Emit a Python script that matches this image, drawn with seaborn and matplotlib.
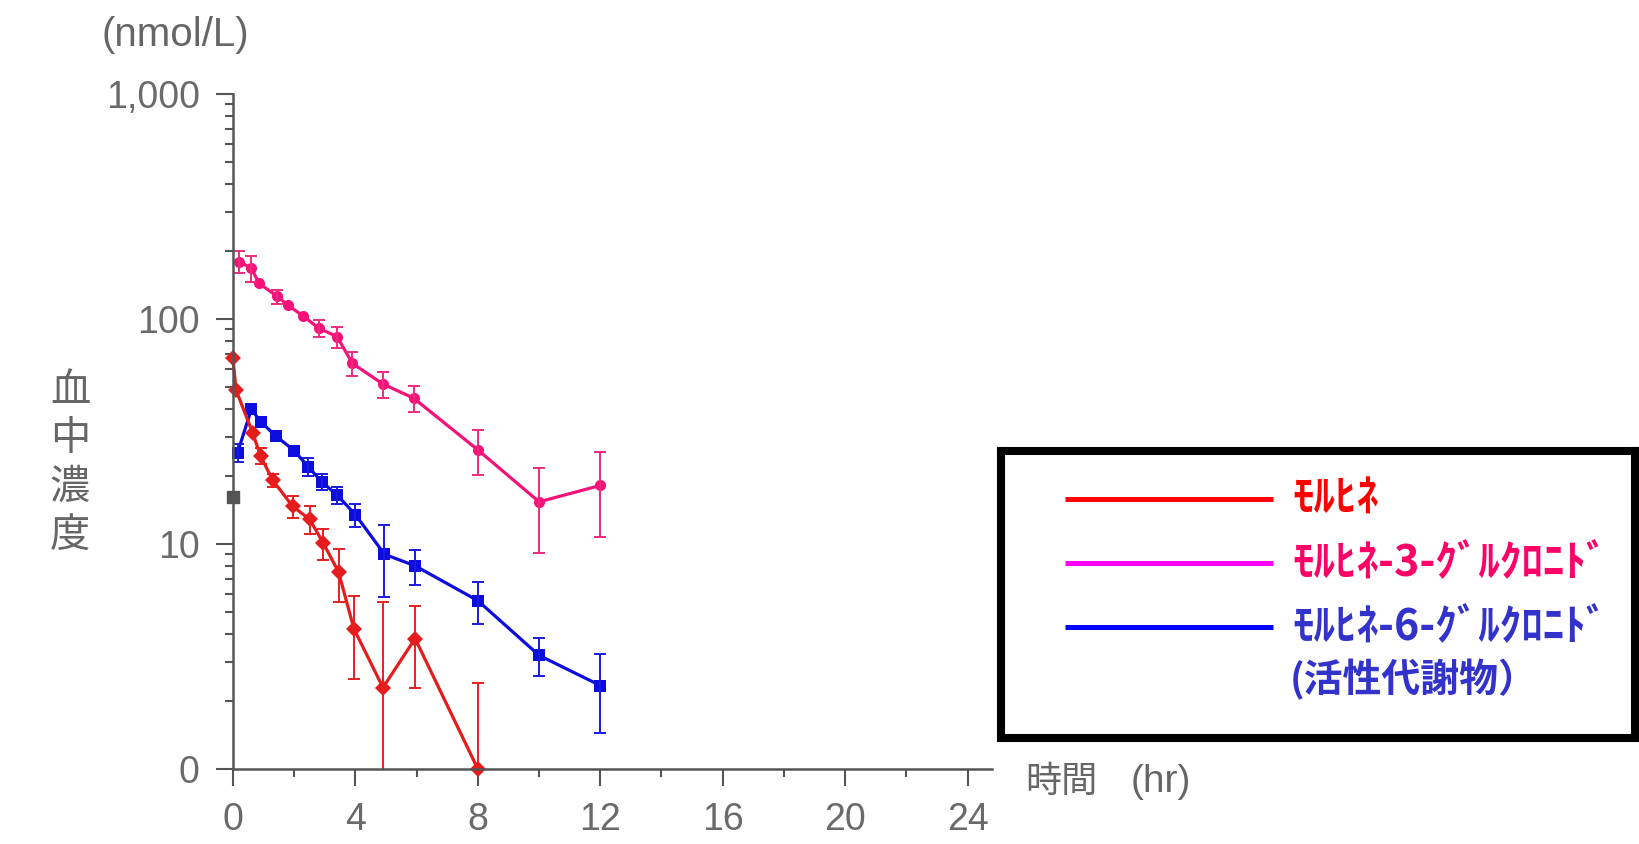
import numpy as np
import pandas as pd
import seaborn as sns
import matplotlib.pyplot as plt
from matplotlib.ticker import LogLocator, NullFormatter

sns.set_style("ticks")
plt.rcParams['font.family'] = ['Liberation Sans', 'Noto Sans CJK JP', 'DejaVu Sans']

# ---- data (time in hr, conc in nmol/L, SD) ----
morphine_t = [0.0, 0.1, 0.65, 0.9, 1.3, 1.95, 2.5, 2.95, 3.45, 3.95, 4.9, 5.95, 8.0]
morphine_c = [66.8, 48.3, 31.0, 24.6, 19.2, 14.7, 12.9, 10.1, 7.5, 4.2, 2.3, 3.8, 1.0]
morphine_sd = [0, 0, 0, 2.0, 1.2, 1.7, 1.8, 1.6, 2.0, 1.7, 3.2, 1.5, 1.4]

m3g_t = [0.2, 0.6, 0.85, 1.45, 1.8, 2.3, 2.8, 3.4, 3.9, 4.9, 5.9, 8.0, 10.0, 12.0]
m3g_c = [180, 168, 144, 126, 115, 103, 91, 83.5, 63.5, 51.4, 44.5, 26.2, 15.4, 18.2]
m3g_sd = [20, 22, 0, 9, 0, 0, 8, 9, 7.5, 7, 6, 6, 6.3, 7.5]

m6g_t = [0.15, 0.6, 0.9, 1.4, 2.0, 2.45, 2.9, 3.4, 4.0, 4.95, 5.95, 8.0, 10.0, 12.0]
m6g_c = [25.5, 39.7, 35.0, 30.2, 26.0, 22.1, 18.9, 16.5, 13.5, 9.0, 8.0, 5.6, 3.2, 2.35]
m6g_sd = [2.3, 0, 0, 0, 0, 2.0, 1.5, 1.5, 1.6, 3.2, 1.45, 1.2, 0.62, 0.9]

# stray grey point on the y axis
extra_t = [0.0]
extra_c = [16.2]

series = ["モルヒネ", "モルヒネ-3-グルクロニド", "モルヒネ-6-グルクロニド"]
legend_labels = ["ﾓﾙﾋﾈ", "ﾓﾙﾋﾈ-3-ｸﾞﾙｸﾛﾆﾄﾞ", "ﾓﾙﾋﾈ-6-ｸﾞﾙｸﾛﾆﾄﾞ"]
legend_extra = "(活性代謝物）"

x_ticks = [0, 4, 8, 12, 16, 20, 24]
y_ticks = [1, 10, 100, 1000]
y_ticklabels = ["0", "10", "100", "1,000"]

line_colors = {series[0]: "#e41c1c", series[1]: "#f7127a", series[2]: "#0c0cde"}
err_colors = {series[0]: "#e62020", series[1]: "#ef2a7c", series[2]: "#1a1ae0"}
markers = {series[0]: "D", series[1]: "o", series[2]: "s"}
legend_line_colors = ["#ff0000", "#ff00ff", "#0000ff"]
legend_text_colors = ["#ff0000", "#ff0066", "#3333cc"]

df = pd.concat([
    pd.DataFrame({"time": morphine_t, "conc": morphine_c, "sd": morphine_sd, "series": series[0]}),
    pd.DataFrame({"time": m3g_t, "conc": m3g_c, "sd": m3g_sd, "series": series[1]}),
    pd.DataFrame({"time": m6g_t, "conc": m6g_c, "sd": m6g_sd, "series": series[2]}),
], ignore_index=True)

############ plot ############
fig = plt.figure(figsize=(16.39, 8.44), dpi=100)
ax = fig.add_axes([233 / 1639, 75 / 844, 759 / 1639, 675 / 844])
ax.set_yscale("log")

sns.lineplot(data=df, x="time", y="conc", hue="series", style="series",
             hue_order=[series[1], series[2], series[0]],
             palette=line_colors, markers=markers, dashes=False, estimator=None,
             linewidth=2.3, markersize=8, markeredgewidth=0, legend=False, ax=ax)
for ln in ax.lines:
    ln.set_clip_on(False)

for name in series:
    g = df[(df["series"] == name) & (df["sd"] > 0)]
    lower = np.minimum(g["sd"].values, g["conc"].values * 0.999)
    ax.errorbar(g["time"], g["conc"], yerr=[lower, g["sd"].values], fmt="none",
                ecolor=err_colors[name], elinewidth=1.4, capsize=4.5, capthick=1.4)

ax.scatter(extra_t, extra_c, marker="s", s=70, color="#555555", clip_on=False, zorder=5)

ax.set_ylim(1, 1000)
ax.set_xlim(0, 24.8)
ax.set_yticks(y_ticks)
ax.set_yticklabels(y_ticklabels)
ax.yaxis.set_minor_locator(LogLocator(base=10, subs=np.arange(2, 10)))
ax.yaxis.set_minor_formatter(NullFormatter())
ax.set_xticks(x_ticks)
ax.set_xticks(np.arange(2, 24, 4), minor=True)
ax.set_xlabel("")
ax.set_ylabel("")
sns.despine(ax=ax)
for s in ["left", "bottom"]:
    ax.spines[s].set_color("#555555")
    ax.spines[s].set_linewidth(1.8)
ax.tick_params(which="major", length=12, width=1.5, color="#555555",
               labelsize=27, labelcolor="#6a6a6a", pad=12)
ax.tick_params(which="minor", length=6, width=1.5, color="#555555")
for lab in ax.get_yticklabels():
    lab.set_verticalalignment("center_baseline")

# axis texts
fig.text(175 / 1639, 1 - 35 / 844, "(nmol/L)", ha="center", va="center",
         fontsize=29, color="#666666")
fig.text(70 / 1639, 1 - 463 / 844, "血\n中\n濃\n度", ha="center", va="center",
         fontsize=29, color="#666666", linespacing=1.22, family=["Noto Sans CJK JP"])
fig.text(1025 / 1639, 1 - 782 / 844, "時間", ha="left", va="center",
         fontsize=26, color="#666666", family=["Noto Sans CJK JP"])
fig.text(1161 / 1639, 1 - 782 / 844, "(hr)", ha="center", va="center",
         fontsize=28, color="#666666")

# legend box
lax = fig.add_axes([1001 / 1639, 106 / 844, 634 / 1639, 287 / 844])
lax.set_xlim(1001, 1635)
lax.set_ylim(738, 451)
lax.set_xticks([])
lax.set_yticks([])
for s in lax.spines.values():
    s.set_visible(True)
    s.set_linewidth(5.8)
    s.set_color("black")

for i, (lab, lc, tc) in enumerate(zip(legend_labels, legend_line_colors, legend_text_colors)):
    y = 499 + 64 * i
    lax.plot([1065, 1273], [y, y], color=lc, lw=3.6, solid_capstyle="butt")
    lax.text(1292, y, lab, ha="left", va="center", fontsize=31, fontweight="bold",
             color=tc, family=["Noto Sans CJK JP", "DejaVu Sans"])
lax.text(1290, 680, legend_extra, ha="left", va="center", fontsize=28, fontweight="bold",
         color=legend_text_colors[2], family=["Noto Sans CJK JP", "DejaVu Sans"])

fig.savefig("out.png", dpi=100)
